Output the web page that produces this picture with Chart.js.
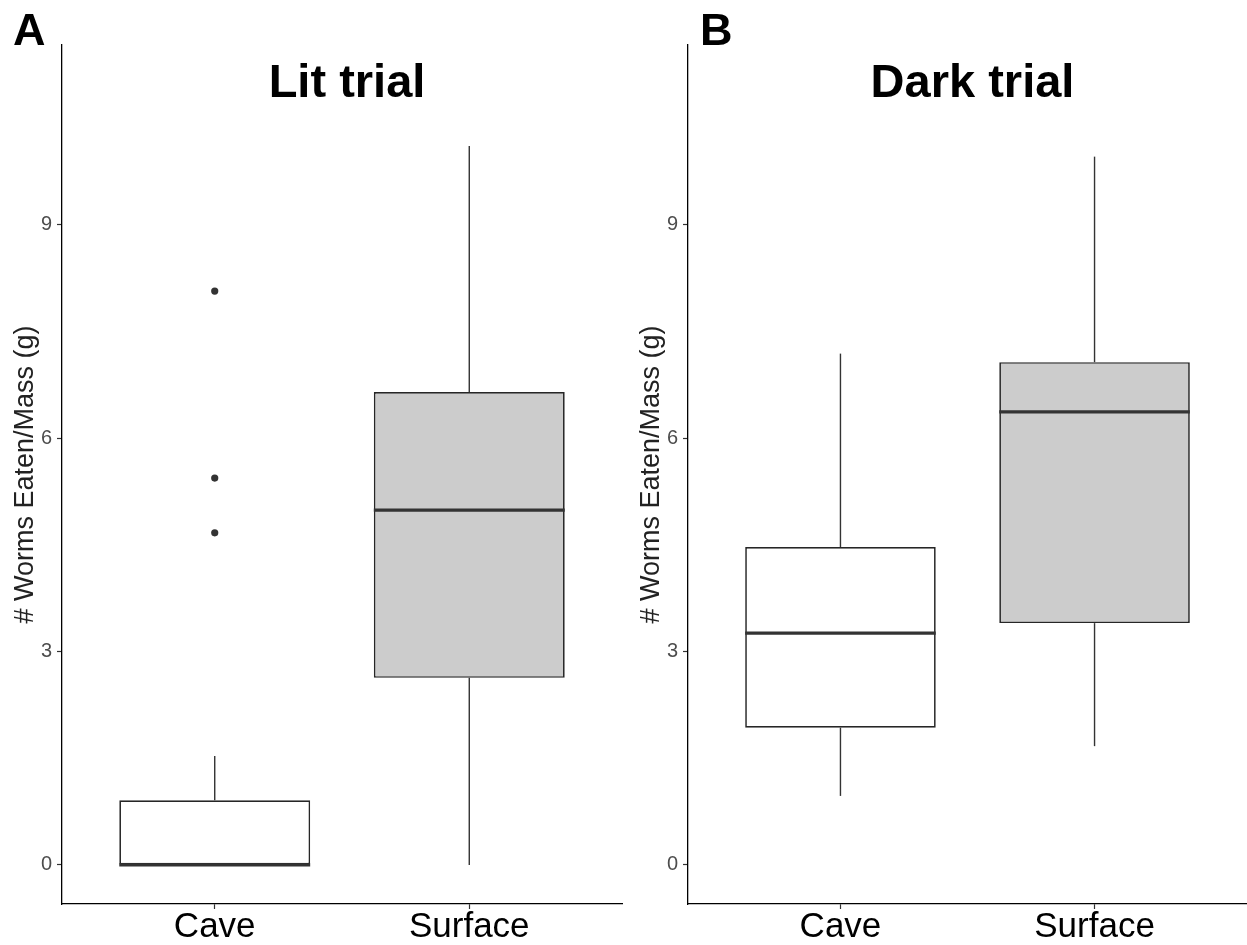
<!DOCTYPE html>
<html>
<head>
<meta charset="utf-8">
<script src="https://cdn.jsdelivr.net/npm/chart.js@4.4.1/dist/chart.umd.min.js"></script>
<style>
  html, body { margin: 0; padding: 0; background: #fff; }
  #wrap { position: relative; width: 1247px; height: 945px; }
  canvas { position: absolute; top: 0; }
  #litChart { left: 0; }
  #darkChart { left: 626px; }
</style>
</head>
<body>
<div id="wrap">
  <canvas id="litChart" width="626" height="945"></canvas>
  <canvas id="darkChart" width="621" height="945"></canvas>
</div>
<script>
const categories = ['Cave', 'Surface'];
const yTicks = [0, 3, 6, 9];

// Lit trial
const litLow = [0, 0];
const litQ1 = [0, 2.63];
const litMedian = [0, 4.99];
const litQ3 = [0.91, 6.65];
const litHigh = [1.53, 10.11];
const litOutliers = [[8.07, 5.44, 4.67], []];

// Dark trial
const darkLow = [0.97, 1.67];
const darkQ1 = [1.93, 3.40];
const darkMedian = [3.26, 6.37];
const darkQ3 = [4.47, 7.07];
const darkHigh = [7.19, 9.96];
const darkOutliers = [[], []];

const boxFill = ['#ffffff', '#cccccc'];
const ink = '#333333';
const font = '"Liberation Sans", Arial, Helvetica, sans-serif';

function lineSet(points, width, order) {
    return {
        type: 'line',
        data: points,
        borderColor: ink,
        borderWidth: width,
        pointRadius: 0,
        fill: false,
        tension: 0,
        borderCapStyle: 'butt',
        order: order
    };
}

function buildDatasets(low, q1, med, q3, high, outliers) {
    const sets = [{
        type: 'bar',
        data: categories.map((c, i) => ({ x: i + 1, y: [q1[i], q3[i]] })),
        backgroundColor: boxFill,
        borderColor: '#262626',
        borderWidth: 1.7,
        borderSkipped: false,
        barPercentage: 0.75,
        categoryPercentage: 1,
        order: 2
    }];
    categories.forEach((c, i) => {
        sets.push(lineSet([{ x: i + 1, y: q3[i] }, { x: i + 1, y: high[i] }], 1.4, 3));
        sets.push(lineSet([{ x: i + 1, y: low[i] }, { x: i + 1, y: q1[i] }], 1.4, 3));
        sets.push(lineSet([{ x: i + 1 - 0.375, y: med[i] }, { x: i + 1 + 0.375, y: med[i] }], 3.2, 1));
    });
    const pts = [];
    outliers.forEach((list, i) => list.forEach(v => pts.push({ x: i + 1, y: v })));
    sets.push({
        type: 'scatter',
        data: pts,
        backgroundColor: ink,
        borderWidth: 0,
        pointRadius: 3.6,
        order: 0
    });
    return sets;
}

const panelText = {
    id: 'panelText',
    afterDraw(chart, args, opts) {
        const ctx = chart.ctx;
        const area = chart.chartArea;
        ctx.save();
        ctx.fillStyle = '#000';
        ctx.textBaseline = 'alphabetic';
        ctx.font = 'bold 47px ' + font;
        ctx.textAlign = 'center';
        ctx.fillText(opts.title, (area.left + area.right) / 2 + 5, 97);
        ctx.font = 'bold 45px ' + font;
        ctx.textAlign = 'left';
        ctx.fillText(opts.letter, opts.letterX, 45);
        ctx.restore();
    }
};

function makeChart(id, datasets, title, letter, letterX, rightPad) {
    return new Chart(document.getElementById(id).getContext('2d'), {
        type: 'bar',
        data: { datasets: datasets },
        plugins: [panelText],
        options: {
            responsive: false,
            animation: false,
            layout: { padding: { top: 45, right: rightPad, left: 0, bottom: 0 } },
            plugins: {
                legend: { display: false },
                tooltip: { enabled: false },
                panelText: { title: title, letter: letter, letterX: letterX }
            },
            scales: {
                x: {
                    type: 'linear',
                    offset: false,
                    min: 0.4,
                    max: 2.6,
                    afterBuildTicks: s => { s.ticks = categories.map((c, i) => ({ value: i + 1 })); },
                    afterFit: s => { s.height = 41; },
                    ticks: {
                        callback: (v, i) => categories[i],
                        color: '#000',
                        font: { family: font, size: 35 },
                        padding: -3,
                        maxRotation: 0,
                        autoSkip: false
                    },
                    grid: { offset: false, drawOnChartArea: false, tickLength: 5, tickColor: ink, tickWidth: 1.2 },
                    border: { display: true, color: '#000', width: 1.3 }
                },
                y: {
                    min: -0.55,
                    max: 11.53,
                    afterBuildTicks: s => { s.ticks = yTicks.map(v => ({ value: v })); },
                    afterFit: s => { s.width = 62; },
                    ticks: {
                        color: '#4d4d4d',
                        font: { family: font, size: 20 },
                        padding: 5
                    },
                    grid: { drawOnChartArea: false, tickLength: 5, tickColor: ink, tickWidth: 1.2 },
                    border: { display: true, color: '#000', width: 1.3 },
                    title: {
                        display: true,
                        text: '# Worms Eaten/Mass (g)',
                        color: '#222',
                        font: { family: font, size: 27 },
                        padding: { top: 9, bottom: 0 }
                    }
                }
            }
        }
    });
}

makeChart('litChart', buildDatasets(litLow, litQ1, litMedian, litQ3, litHigh, litOutliers), 'Lit trial', 'A', 13, 4);
makeChart('darkChart', buildDatasets(darkLow, darkQ1, darkMedian, darkQ3, darkHigh, darkOutliers), 'Dark trial', 'B', 74, 0);
</script>
</body>
</html>
